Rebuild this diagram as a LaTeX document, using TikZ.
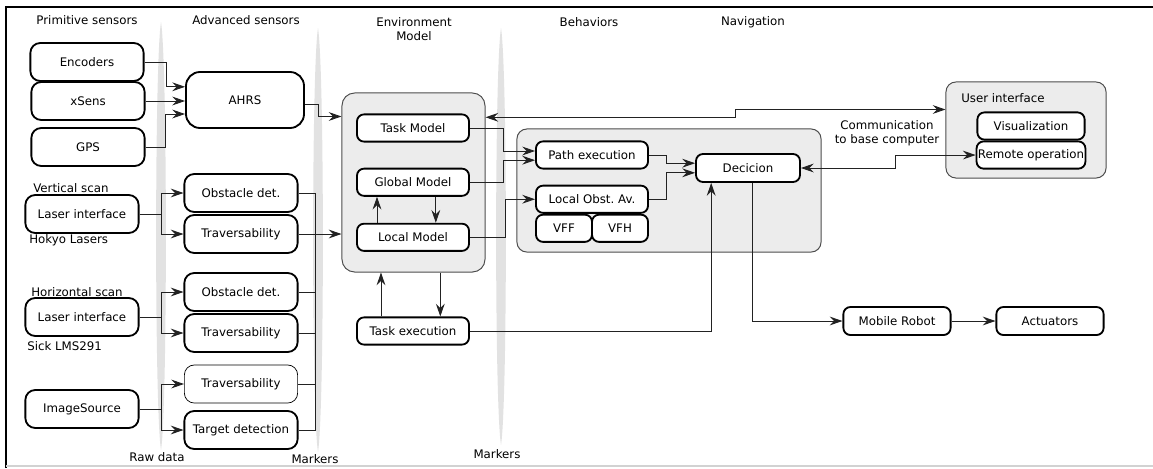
\documentclass[tikz,border=0pt]{standalone}
\usepackage{fontspec}
\setmainfont{DejaVu Sans}
\usepackage{tikz}
\usetikzlibrary{arrows.meta, positioning, calc}
\usepackage{xcolor}
\definecolor{panelgrey}{HTML}{ECECEC}
\definecolor{bargrey}{HTML}{E2E2E2}
\definecolor{panelline}{HTML}{4D4D4D}
\definecolor{linegrey}{HTML}{222222}
\tikzset{
  sensbox/.style={rectangle, draw=black, fill=white, line width=1.3pt,
                  rounded corners=7pt, minimum width=2.83cm, minimum height=0.95cm,
                  align=center},
  ahrsbox/.style={sensbox, rounded corners=10pt, minimum width=2.95cm, minimum height=1.4cm},
  smallbox/.style={rectangle, draw=black, fill=white, line width=1.3pt,
                   rounded corners=5pt, minimum width=2.8cm, minimum height=0.68cm,
                   align=center},
  halfbox/.style={smallbox, minimum width=1.4cm},
  panel/.style={rectangle, draw=panelline, fill=panelgrey, line width=0.7pt,
                rounded corners=7pt},
  sensorbar/.style={fill=bargrey},
  collabel/.style={align=center},
  sidelabel/.style={anchor=west, inner sep=0pt},
  link/.style={->, line width=0.65pt, >={Stealth[length=3.2mm,width=2.2mm,inset=1.1mm]},
               draw=linegrey},
  biglink/.style={link, <->},
  busline/.style={line width=0.65pt, draw=linegrey},
}

\begin{document}
\begin{tikzpicture}[x=0.025cm, y=-0.025cm, font=\fontsize{8.4}{10}\selectfont]
  \useasboundingbox (0,0) rectangle (1153,468);
  % frame
  \draw[line width=0.8pt] (6,468) -- (6,7) -- (1153,7);
  \draw[gray!35, line width=0.8pt] (6,466) -- (1153,466);

  % grey separator bars
  \foreach \bx/\btop/\bbot in {161/22/450, 318/28/452, 501/28/445}
    \fill[sensorbar] (\bx,\btop) .. controls (\bx+6.5,\btop+40) and (\bx+6.5,\bbot-40) .. (\bx,\bbot)
                     .. controls (\bx-6.5,\bbot-40) and (\bx-6.5,\btop+40) .. (\bx,\btop);

  % column headings
  \node (hprim) at (87,20) {Primitive sensors};
  \node (hadv) at (246,20) {Advanced sensors};
  \node[collabel] (henv) at (414,29) {Environment\\Model};
  \node (hbeh) at (589,22) {Behaviors};
  \node (hnav) at (753,22) {Navigation};

  % bar labels
  \node (lraw) at (157,457) {Raw data};
  \node (lmk1) at (315,459) {Markers};
  \node (lmk2) at (497,454) {Markers};

  % panels
  \node[panel, minimum width=3.575cm, minimum height=4.475cm, rounded corners=9pt]
    (env) at (413.5,182.5) {};
  \node[panel, minimum width=7.6cm, minimum height=3.075cm] (beh) at (669,190.5) {};
  \node[panel, minimum width=4cm, minimum height=2.4cm] (ui) at (1026,130) {};
  \node[sidelabel] (uilab) at (961,98) {User interface};

  % primitive sensors
  \node[sensbox] (enc)   at (87,62)  {Encoders};
  \node[sensbox] (xsens) at (88,101) {xSens};
  \node[sensbox] (gps)   at (88,147) {GPS};
  \node[ahrsbox] (ahrs)  at (245,100) {AHRS};

  % vertical scan laser
  \node[sensbox] (las1) at (82,214) {Laser interface};
  \node[sidelabel] (vscan) at (33,188) {Vertical scan};
  \node[sidelabel] (hokyo) at (29,240) {Hokyo Lasers};
  \node[sensbox] (obs1) at (241,193) {Obstacle det.};
  \node[sensbox] (trv1) at (241,234) {Traversability};

  % horizontal scan laser
  \node[sensbox] (las2) at (82,317) {Laser interface};
  \node[sidelabel] (hscan) at (31,292) {Horizontal scan};
  \node[sidelabel] (sick) at (27,346) {Sick LMS291};
  \node[sensbox] (obs2) at (241,292) {Obstacle det.};
  \node[sensbox] (trv2) at (241,333) {Traversability};

  % camera
  \node[sensbox] (img) at (82,409) {ImageSource};
  \node[sensbox, line width=0.5pt] (trv3) at (241,384) {Traversability};
  \node[sensbox] (tgt) at (241,430) {Target detection};

  % environment model
  \node[smallbox] (tm) at (413,128) {Task Model};
  \node[smallbox, below=0.63cm of tm] (gm) {Global Model};
  \node[smallbox, below=0.65cm of gm] (lm) {Local Model};
  \node[smallbox] (tex) at (413,331) {Task execution};

  % behaviors
  \node[smallbox] (pe) at (592,155) {Path execution};
  \node[smallbox, below=0.38cm of pe] (loa) {Local Obst.\ Av.};
  \node[halfbox, anchor=north west] (vff) at (loa.south west) {VFF};
  \node[halfbox, anchor=north east] (vfh) at (loa.south east) {VFH};

  % navigation and robot
  \node[smallbox, minimum width=2.6cm, minimum height=0.7cm] (dec) at (748,168) {Decicion};
  \node[smallbox, minimum width=2.68cm, minimum height=0.7cm] (mr) at (897,321) {Mobile Robot};
  \node[smallbox, minimum width=2.68cm, minimum height=0.7cm] (act) at (1050,321) {Actuators};

  % user interface
  \node[smallbox, minimum width=2.68cm] (vis) at (1031,126) {Visualization};
  \node[smallbox, minimum width=2.68cm, inner xsep=1pt, below=0pt of vis] (ro) {Remote operation};
  \node[collabel] (comm) at (887,133) {Communication\\to base computer};

  % sensors to AHRS
  \draw[link] (enc.east) -- ++(22,0) |- ([yshift=0.33cm]ahrs.west);
  \draw[link] (xsens.east) -- (xsens.east -| ahrs.west);
  \draw[link] (gps.east) -- ++(20,0) |- ([yshift=-0.35cm]ahrs.west);
  \draw[link] ([yshift=-0.1cm]ahrs.east) -- ++(14,0) |- ([yshift=-0.6cm]env.north west);

  % fan-out to advanced sensors
  \foreach \src/\ta/\tb in {las1/obs1/trv1, las2/obs2/trv2, img/trv3/tgt} {
    \draw[link] (\src.east) -- ++(22,0) |- (\ta.west);
    \draw[link] (\src.east) -- ++(22,0) |- (\tb.west);
  }

  % marker bus
  \draw[busline] (obs1.east) -- ++(17,0) coordinate (bus) |- (tgt.east);
  \foreach \n in {obs2, trv2, trv3}
    \draw[busline] (\n.east) -- (\n.east -| bus);
  \draw[link] (trv1.east) -- (trv1.east -| env.west);

  % inside environment model
  \draw[link] ([xshift=-0.9cm]lm.north) -- ([xshift=-0.9cm]gm.south);
  \draw[link] ([xshift=0.57cm]gm.south) -- ([xshift=0.57cm]lm.north);
  \draw[link] ([xshift=-0.8cm]tex.north) -- ([xshift=-0.8cm]tex.north |- env.south);
  \draw[link] ([xshift=0.67cm]env.south) -- ([xshift=0.67cm]env.south |- tex.north);

  % models to behaviors
  \draw[link] (tm.east) -- ++(34,0) |- ([yshift=0.1cm]pe.west);
  \draw[link] (gm.east) -- ++(34,0) |- ([yshift=-0.13cm]pe.west);
  \draw[link] (lm.east) -- ++(36,0) |- (loa.west);

  % behaviors to decision
  \draw[link] (pe.east) -- ++(18,0) |- ([yshift=0.12cm]dec.west);
  \draw[link] (loa.east) -- ++(18,0) |- ([yshift=-0.12cm]dec.west);
  \draw[link] (tex.east) -| ([xshift=-0.92cm]dec.south);

  % decision to robot
  \draw[link] ([xshift=0.12cm]dec.south) |- (mr.west);
  \draw[link] (mr.east) -- (act.west);

  % communication to base computer
  \draw[biglink] ([yshift=-0.62cm]env.north east) -- ++(250,0) |- ([yshift=-0.7cm]ui.north west);
  \draw[biglink] (dec.east) -- ++(95,0) |- (ro.west);
\end{tikzpicture}
\end{document}
